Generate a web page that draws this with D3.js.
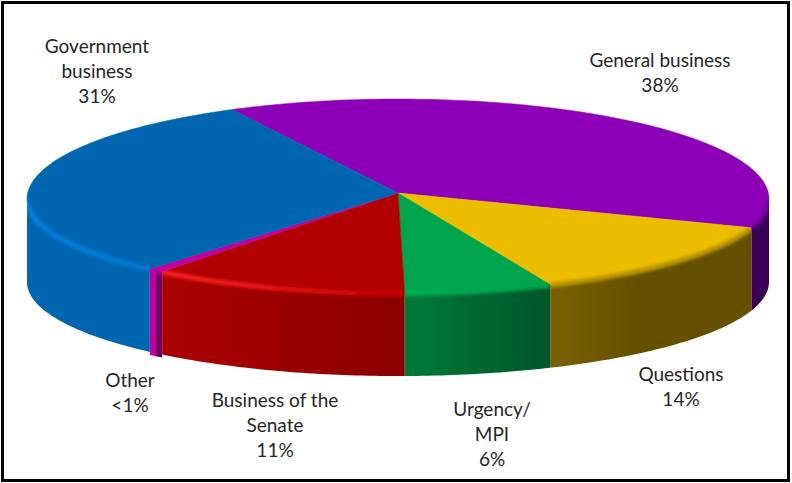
<!DOCTYPE html>
<html lang="en">
<head>
<meta charset="UTF-8">
<script src="https://d3js.org/d3.v7.min.js"></script>
<style>
  html, body { margin: 0; background: #fff; }
  svg { display: block; }
  text { font-family: Lato, "Open Sans", sans-serif; font-size: 19px; fill: #262626; text-anchor: middle; }
</style>
</head>
<body>
<script>
  // data, clockwise from the top-left edge of General business
  const categories = ["General business", "Questions", "Urgency/MPI", "Business of the Senate", "Other", "Government business"];
  const shares = [37.5, 13.4, 6.48, 11.3, 0.7, 31.1];
  const shareLabels = ["38%", "14%", "6%", "11%", "<1%", "31%"];
  const labelLines = [["General business"], ["Questions"], ["Urgency/", "MPI"], ["Business of the", "Senate"], ["Other"], ["Government", "business"]];

  // styling per slice, same order
  const topColors = ["#8e00b8", "#edbd00", "#00a44c", "#b00000", "#c000a0", "#0066b0"];
  const wallStart = ["#3a0058", "#7a6000", "#007a38", "#ac0000", "#c000a0", "#0066b0"];
  const wallEnd = ["#3a0058", "#655000", "#00562c", "#8a0000", "#700060", "#0066b0"];
  const rimStart = ["#70009c", "#b89400", "#00b050", "#ff2020", "#c000a0", "#0080e0"];
  const rimEnd = ["#70009c", "#b89400", "#00a048", "#c40000", "#c000a0", "#0078d0"];
  const labelX = [660, 681, 492, 275, 130, 97];
  const labelY = [61, 375, 410, 401, 381, 47];

  const width = 792, height = 483;
  const cx = 398, cy = 199, rx = 371, ryBack = 100, ryFront = 94, depth = 83;
  const apexY = 193;
  const startAngle = -26.6 * Math.PI / 180;
  const lineGap = 25;

  const svg = d3.select("body").append("svg").attr("width", width).attr("height", height);
  const defs = svg.append("defs");
  defs.append("filter").attr("id", "soft")
    .attr("x", 0).attr("y", 0).attr("width", width).attr("height", height)
    .attr("filterUnits", "userSpaceOnUse")
    .append("feGaussianBlur").attr("stdDeviation", 1.5);

  svg.append("rect").attr("x", 2.5).attr("y", 2.5).attr("width", 786).attr("height", 478)
    .attr("fill", "#fff").attr("stroke", "#000").attr("stroke-width", 3);

  const pie = d3.pie().sort(null).startAngle(startAngle).endAngle(startAngle + 2 * Math.PI);
  const slices = pie(shares);

  const px = a => cx + rx * Math.sin(a);
  const py = a => {
    const c = Math.cos(a);
    return cy - (c > 0 ? ryBack : ryFront) * c;
  };
  const line = d3.line();

  function rimPoints(a0, a1, dy) {
    const n = Math.max(2, Math.ceil((a1 - a0) * 60));
    return d3.range(n + 1).map(i => {
      const a = a0 + (a1 - a0) * i / n;
      return [px(a), py(a) + dy];
    });
  }

  // part of a slice that faces the viewer
  function frontRange(d) {
    const a0 = Math.max(d.startAngle, Math.PI / 2), a1 = Math.min(d.endAngle, 3 * Math.PI / 2);
    return a1 > a0 ? [a0, a1] : null;
  }

  function wallPath(d) {
    const r = frontRange(d);
    if (!r) return null;
    // the Other strip sits a little proud of the rest
    const h = d.index === 4 ? depth + 3 : depth;
    return line(rimPoints(r[0], r[1], 0).concat(rimPoints(r[0], r[1], h).reverse())) + "Z";
  }

  function topPath(d) {
    return line([[cx, apexY]].concat(rimPoints(d.startAngle, d.endAngle, 0))) + "Z";
  }

  function addGradient(id, r, stops) {
    const grad = defs.append("linearGradient").attr("id", id)
      .attr("gradientUnits", "userSpaceOnUse")
      .attr("x1", px(r[0])).attr("x2", px(r[1])).attr("y1", 0).attr("y2", 0);
    stops.forEach(s => grad.append("stop").attr("offset", s[0]).attr("stop-color", s[1]));
  }

  slices.forEach((d, i) => {
    const r = frontRange(d);
    if (!r) return;
    let stops = [[0, wallEnd[i]], [1, wallStart[i]]];
    // Other is a hard two-tone strip, Questions only lightens near its left end
    if (i === 4) stops = [[0, wallEnd[i]], [0.48, wallEnd[i]], [0.52, wallStart[i]], [1, wallStart[i]]];
    if (i === 1) stops = [[0, wallEnd[i]], [0.55, wallEnd[i]], [1, wallStart[i]]];
    addGradient("wall" + i, r, stops);
    addGradient("rim" + i, r, [[0, rimEnd[i]], [1, rimStart[i]]]);
    const clip = defs.append("clipPath").attr("id", "clip" + i);
    clip.append("path").attr("d", wallPath(d));
    clip.append("path").attr("d", topPath(d));
  });

  const pieG = svg.append("g");
  pieG.selectAll("path.wall").data(slices.filter(frontRange)).enter().append("path")
    .attr("class", "wall")
    .attr("d", wallPath)
    .attr("fill", d => `url(#wall${d.index})`);

  pieG.selectAll("path.top").data(slices).enter().append("path")
    .attr("class", "top")
    .attr("d", topPath)
    .attr("fill", d => topColors[d.index])
    .attr("stroke", d => topColors[d.index])
    .attr("stroke-width", 0.5);

  // soft band along the front rim
  pieG.selectAll("g.rim").data(slices.filter(frontRange)).enter().append("g")
    .attr("class", "rim")
    .attr("clip-path", d => `url(#clip${d.index})`)
    .append("path")
    .attr("d", d => { const r = frontRange(d); return line(rimPoints(r[0], r[1], 0.5)); })
    .attr("fill", "none")
    .attr("stroke", d => `url(#rim${d.index})`)
    .attr("stroke-width", 5)
    .attr("filter", "url(#soft)");

  const labels = svg.selectAll("text").data(categories).enter().append("text")
    .attr("y", (d, i) => labelY[i]);
  labels.each(function (d, i) {
    const t = d3.select(this);
    labelLines[i].concat(shareLabels[i]).forEach((s, k) => {
      t.append("tspan").attr("x", labelX[i]).attr("y", labelY[i] + 6 + k * lineGap).text(s);
    });
  });
</script>
</body>
</html>
